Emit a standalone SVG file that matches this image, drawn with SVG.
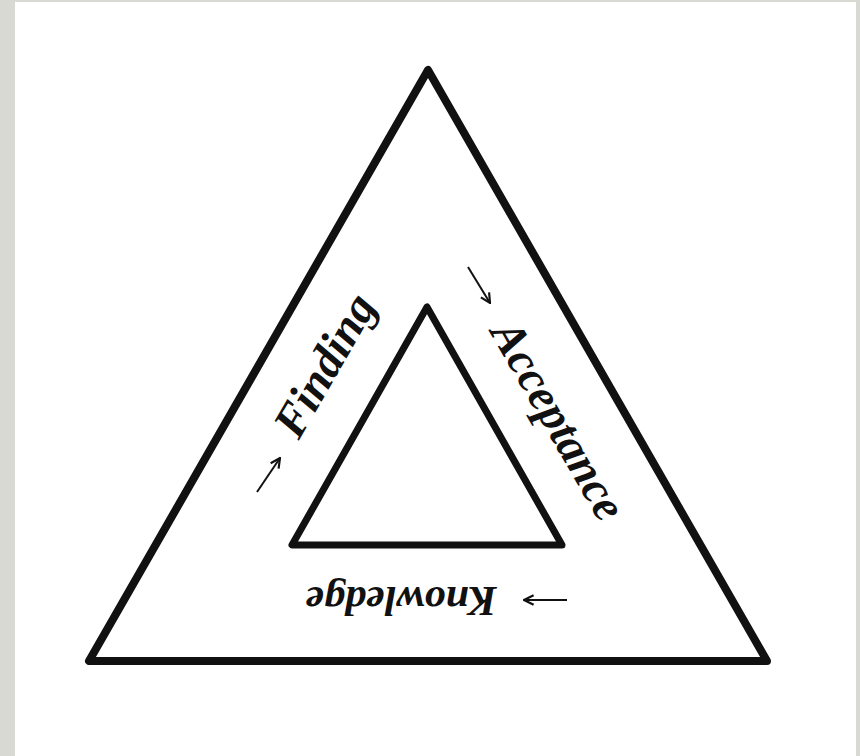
<svg xmlns="http://www.w3.org/2000/svg" width="860" height="756" viewBox="0 0 860 756">
<style>
.tri{fill:none;stroke:#111;stroke-linejoin:round;stroke-linecap:round}
.lbl{font-family:"Liberation Serif","DejaVu Serif",serif;font-weight:bold;font-style:italic;font-size:47px;fill:#111}
.lbl.k{font-size:42px}
.arr{fill:none;stroke:#111;stroke-width:2;marker-end:url(#head)}
</style>
<defs>
<marker id="head" viewBox="0 0 10 10" refX="9" refY="5" markerWidth="6" markerHeight="6" orient="auto" markerUnits="strokeWidth">
<path d="M1,1 L9,5 L1,9" fill="none" stroke="#111" stroke-width="1.8" stroke-linejoin="miter"/>
</marker>
</defs>
<rect x="0" y="0" width="860" height="756" fill="#d9d9d4"/>
<rect x="15" y="2" width="841" height="754" fill="#fff"/>
<g id="outer-triangle"><polygon class="tri" stroke-width="8" points="428,70 89,661 767,661"/></g>
<g id="inner-triangle"><polygon class="tri" stroke-width="7" points="427,307 292,545 562,545"/></g>
<g id="finding">
<text class="lbl" text-anchor="middle" transform="translate(338,373) rotate(-60)">Finding</text>
</g>
<g id="acceptance">
<text class="lbl" text-anchor="middle" transform="translate(545,428) rotate(60)">Acceptance</text>
</g>
<g id="knowledge">
<text class="lbl k" text-anchor="middle" transform="translate(401,587) rotate(180)">Knowledge</text>
</g>
<g id="connectors">
<path class="arr" d="M257,492 L280,458"/>
<path class="arr" d="M468,267 L490,303"/>
<path class="arr" d="M567,600 L524,600"/>
</g>
</svg>
